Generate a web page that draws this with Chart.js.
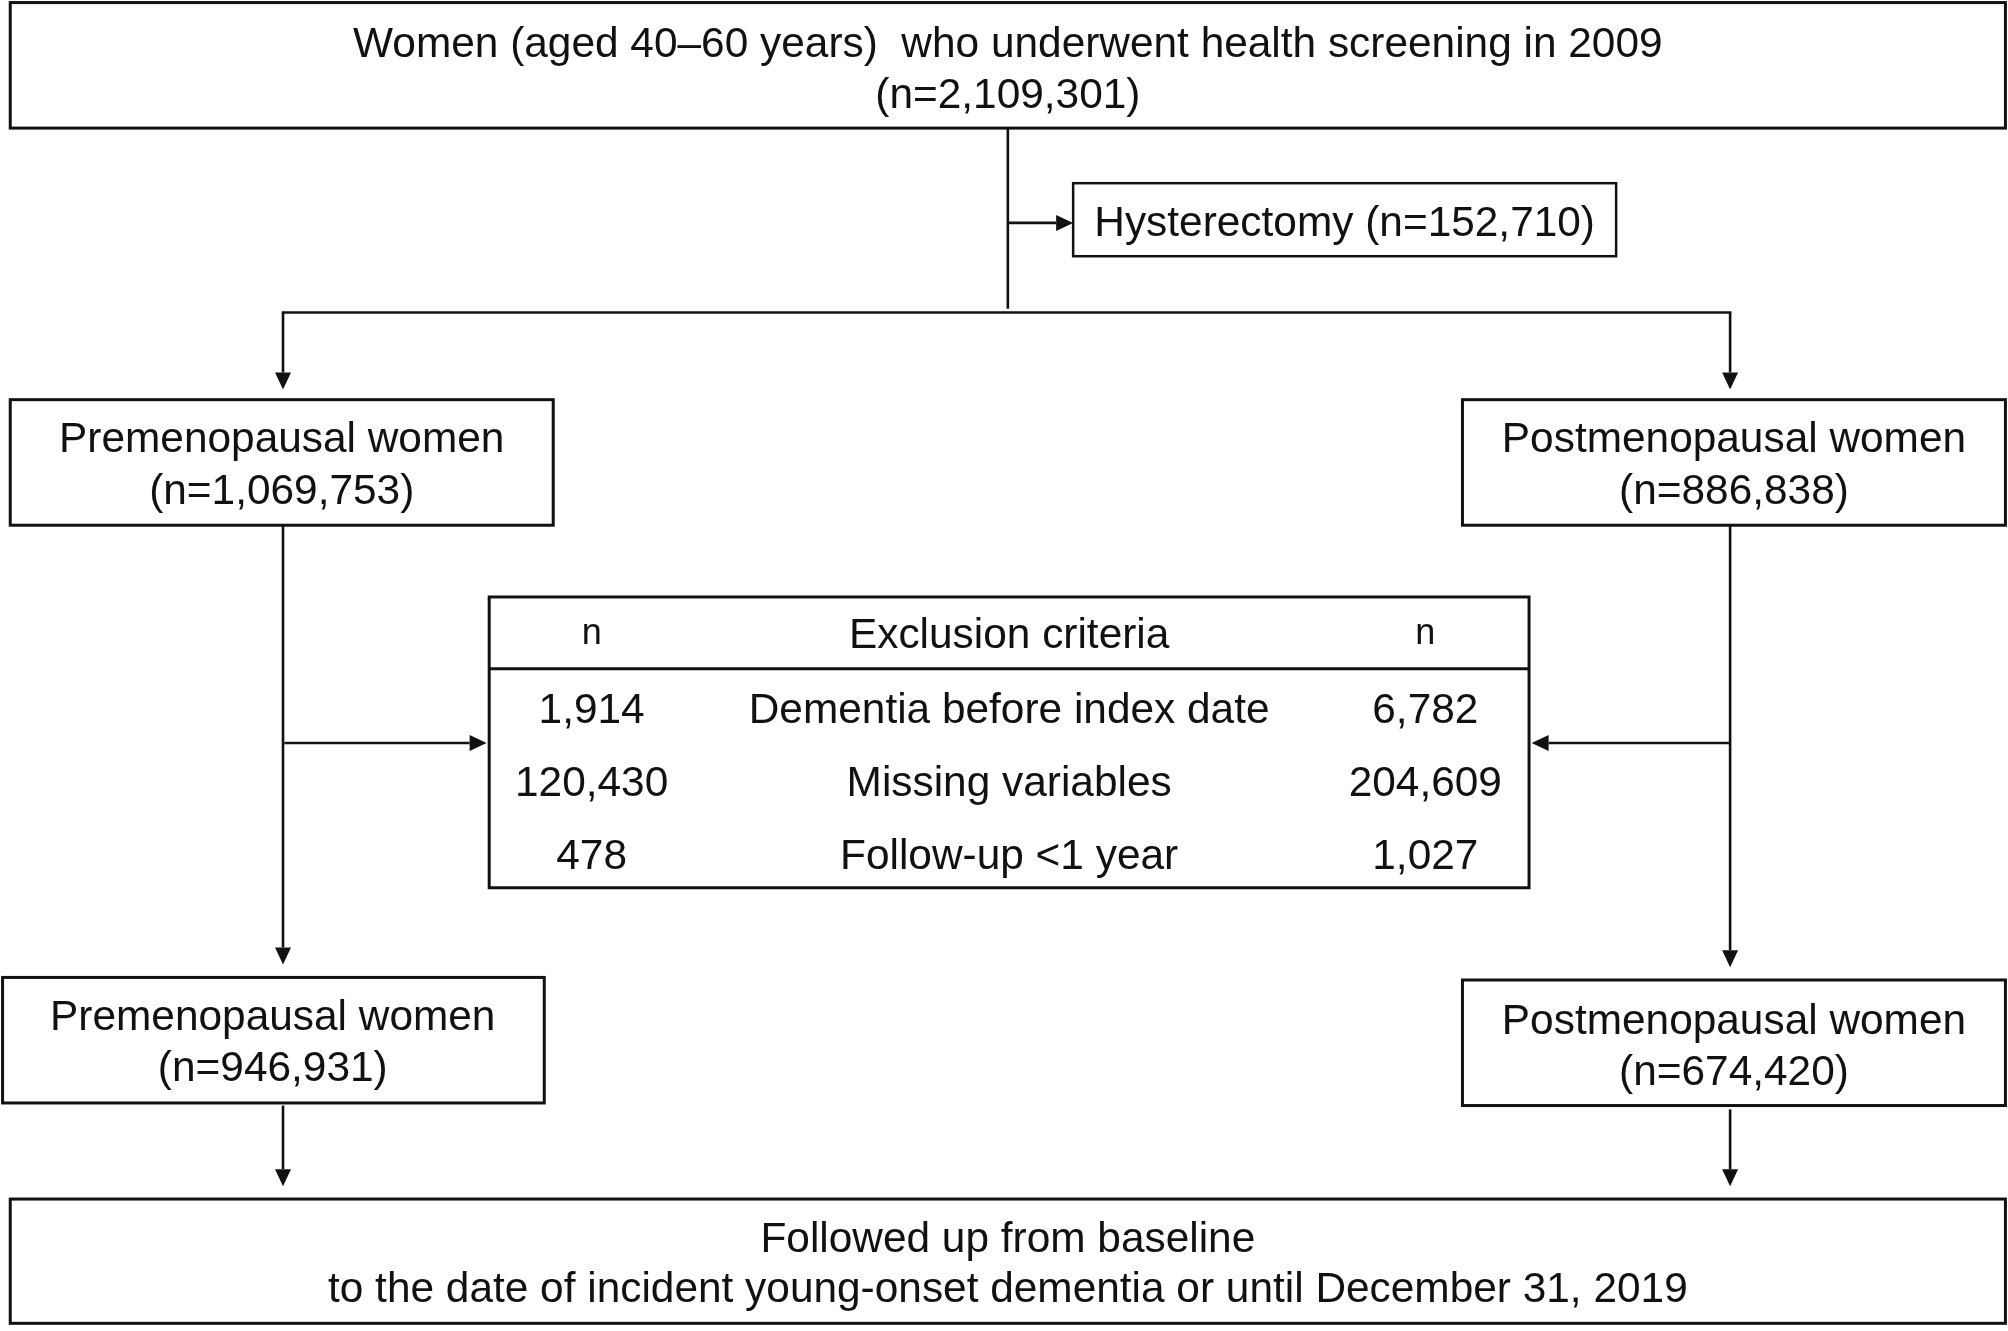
<!DOCTYPE html>
<html>
<head>
<meta charset="utf-8">
<script src="https://cdn.jsdelivr.net/npm/chart.js@4.4.1/dist/chart.umd.min.js"></script>
<style>
  html, body { margin: 0; padding: 0; background: #fff; }
  #wrap { width: 2008px; height: 1331px; position: relative; }
</style>
</head>
<body>
<div id="wrap"><canvas id="c"></canvas></div>
<script>
// ---------------- DATA ----------------
const topLabel = 'Women (aged 40\u201360 years)  who underwent health screening in 2009';
const topCount = 2109301;
const hysterectomyLabel = 'Hysterectomy';
const hysterectomyCount = 152710;
const groupLabels = ['Premenopausal women', 'Postmenopausal women'];
const groupCountsBefore = [1069753, 886838];
const groupCountsAfter = [946931, 674420];
const exclusionHeader = ['n', 'Exclusion criteria', 'n'];
const exclusionCriteria = ['Dementia before index date', 'Missing variables', 'Follow-up <1 year'];
const premenoExcluded = [1914, 120430, 478];
const postmenoExcluded = [6782, 204609, 1027];
const followUpLines = ['Followed up from baseline', 'to the date of incident young-onset dementia or until December 31, 2019'];

const fmt = v => v.toLocaleString('en-US');

// ---------------- LAYOUT (drawing units of the hidden axes) ----------------
const L = {
  top:   { box: [8, 2, 1566, 100], cx: 787, ty: [33, 73] },
  hyst:  { box: [838, 143, 1262, 200], cx: 1050, ty: [173] },
  preA:  { box: [8, 312, 432, 410], cx: 220, ty: [342, 382] },
  postA: { box: [1142, 312, 1566, 410], cx: 1354, ty: [342, 382] },
  table: { box: [382, 466, 1194, 693], sep: 522, cols: [462, 788, 1113], hy: 495, ry: [553, 610, 667] },
  preB:  { box: [2, 763, 425, 861], cx: 213, ty: [793, 833] },
  postB: { box: [1142, 765, 1566, 863], cx: 1354, ty: [796, 836] },
  fin:   { box: [8, 936, 1566, 1033], cx: 787, ty: [966, 1005] }
};
const TEXT_DY = 2;
const lines = [
  [787, 100, 787, 241],
  [220, 244, 1352, 244]
];
const arrows = [
  [787, 174, 838, 174],
  [221, 244, 221, 304],
  [1351, 244, 1351, 304],
  [221, 410, 221, 753],
  [1351, 410, 1351, 755],
  [222, 580, 380, 580],
  [1351, 580, 1196, 580],
  [221, 863, 221, 926],
  [1351, 866, 1351, 926]
];

const FONT = '"Liberation Sans", Arial, sans-serif';

const flowPlugin = {
  id: 'flow',
  afterDraw(chart) {
    const ctx = chart.ctx;
    const xs = chart.scales.x, ys = chart.scales.y;
    const X = v => xs.getPixelForValue(v);
    const Y = v => ys.getPixelForValue(v);
    ctx.save();
    ctx.fillStyle = '#fff';
    ctx.fillRect(0, 0, chart.width, chart.height);
    ctx.strokeStyle = '#111';
    ctx.fillStyle = '#111';
    ctx.lineCap = 'butt';

    function rect(b, lw) {
      ctx.lineWidth = lw;
      const x0 = X(b[0]), y0 = Y(b[1]), x1 = X(b[2]), y1 = Y(b[3]);
      ctx.strokeRect(x0, y0, x1 - x0, y1 - y0);
    }
    function line(a, lw) {
      ctx.lineWidth = lw;
      ctx.beginPath();
      ctx.moveTo(X(a[0]), Y(a[1]));
      ctx.lineTo(X(a[2]), Y(a[3]));
      ctx.stroke();
    }
    function arrow(a) {
      const x0 = X(a[0]), y0 = Y(a[1]), x1 = X(a[2]), y1 = Y(a[3]);
      const ang = Math.atan2(y1 - y0, x1 - x0);
      const len = 17, half = 8;
      const bx = x1 - len * Math.cos(ang), by = y1 - len * Math.sin(ang);
      ctx.lineWidth = 2.6;
      ctx.beginPath();
      ctx.moveTo(x0, y0);
      ctx.lineTo(bx, by);
      ctx.stroke();
      ctx.beginPath();
      ctx.moveTo(x1, y1);
      ctx.lineTo(bx + half * Math.sin(ang), by - half * Math.cos(ang));
      ctx.lineTo(bx - half * Math.sin(ang), by + half * Math.cos(ang));
      ctx.closePath();
      ctx.fill();
    }
    function text(t, cx, cy, size) {
      ctx.font = size + 'px ' + FONT;
      ctx.textAlign = 'center';
      ctx.textBaseline = 'middle';
      ctx.fillText(t, X(cx), Y(cy + TEXT_DY));
    }

    // boxes
    rect(L.top.box, 3);
    rect(L.hyst.box, 2.5);
    rect(L.preA.box, 3);
    rect(L.postA.box, 3);
    rect(L.table.box, 3);
    rect(L.preB.box, 3);
    rect(L.postB.box, 3);
    rect(L.fin.box, 3);
    // table separator
    line([L.table.box[0], L.table.sep, L.table.box[2], L.table.sep], 3);

    lines.forEach(a => line(a, 2.6));
    arrows.forEach(a => arrow(a));

    const FS = 42.4;
    text(topLabel, L.top.cx, L.top.ty[0], FS);
    text('(n=' + fmt(topCount) + ')', L.top.cx, L.top.ty[1], FS);
    text(hysterectomyLabel + ' (n=' + fmt(hysterectomyCount) + ')', L.hyst.cx, L.hyst.ty[0], FS);

    const before = [L.preA, L.postA], after = [L.preB, L.postB];
    groupLabels.forEach((g, i) => {
      text(g, before[i].cx, before[i].ty[0], FS);
      text('(n=' + fmt(groupCountsBefore[i]) + ')', before[i].cx, before[i].ty[1], FS);
      text(g, after[i].cx, after[i].ty[0], FS);
      text('(n=' + fmt(groupCountsAfter[i]) + ')', after[i].cx, after[i].ty[1], FS);
    });

    const T = L.table;
    text(exclusionHeader[0], T.cols[0], T.hy - 2, 36);
    text(exclusionHeader[1], T.cols[1], T.hy, FS);
    text(exclusionHeader[2], T.cols[2], T.hy - 2, 36);
    exclusionCriteria.forEach((c, i) => {
      text(fmt(premenoExcluded[i]), T.cols[0], T.ry[i], FS);
      text(c, T.cols[1], T.ry[i], FS);
      text(fmt(postmenoExcluded[i]), T.cols[2], T.ry[i], FS);
    });

    followUpLines.forEach((t, i) => text(t, L.fin.cx, L.fin.ty[i], FS));
    ctx.restore();
  }
};

new Chart(document.getElementById('c'), {
  type: 'scatter',
  data: { datasets: [{ data: [], pointRadius: 0 }] },
  options: {
    responsive: true,
    maintainAspectRatio: false,
    animation: false,
    layout: { padding: 0 },
    plugins: { legend: { display: false }, tooltip: { enabled: false } },
    scales: {
      x: { type: 'linear', min: 0, max: 1568, display: false },
      y: { type: 'linear', min: 0, max: 1039, reverse: true, display: false }
    }
  },
  plugins: [flowPlugin]
});
</script>
</body>
</html>
